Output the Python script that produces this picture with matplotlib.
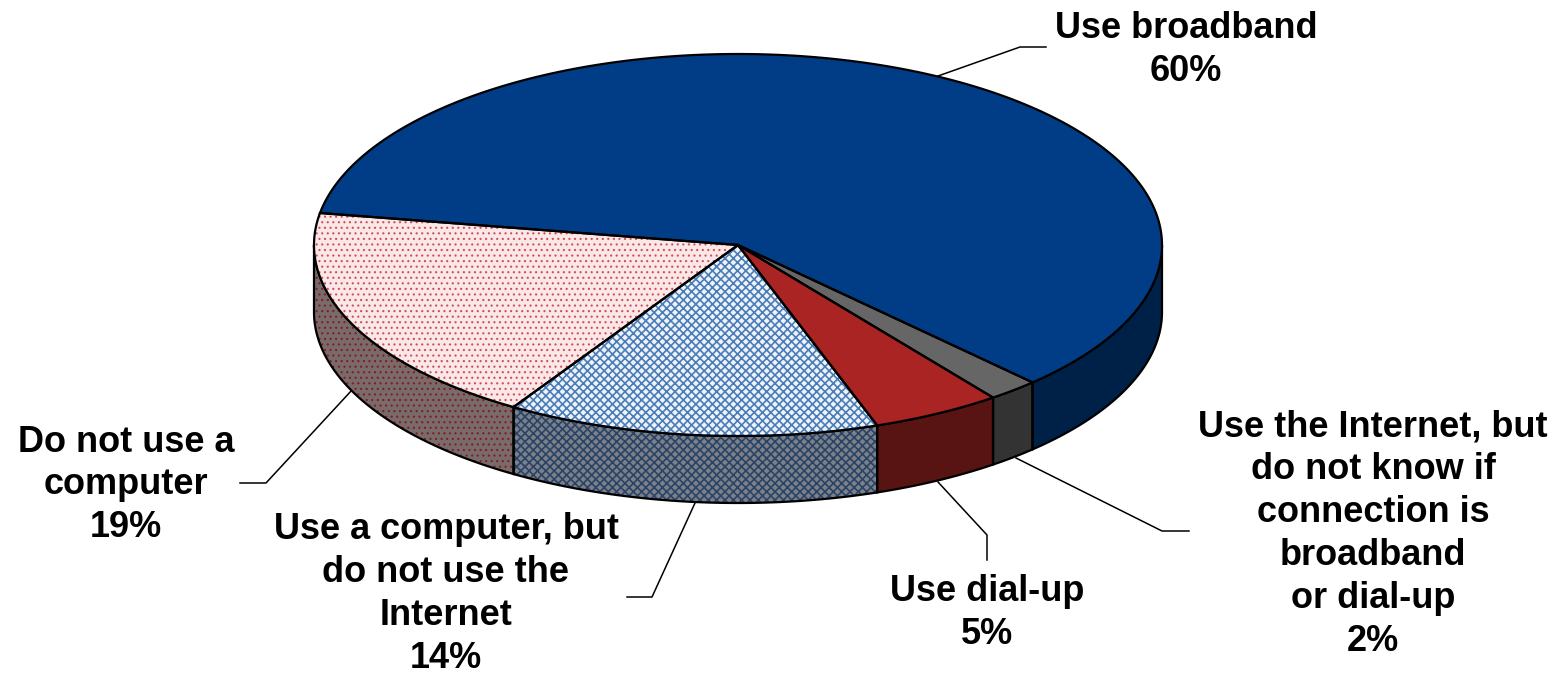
import numpy as np
import matplotlib
matplotlib.use("Agg")
import matplotlib.pyplot as plt

plt.rcParams["font.family"] = ["Liberation Sans", "DejaVu Sans"]

# counter clockwise, starting at the blue slice
labels = ["Use broadband\n60%",
          "Do not use a\ncomputer\n19%",
          "Use a computer, but\ndo not use the\nInternet\n14%",
          "Use dial-up\n5%",
          "Use the Internet, but\ndo not know if\nconnection is\nbroadband\nor dial-up\n2%"]
# slice sizes, the labels show them rounded
values = [60.1, 18.8, 14.2, 4.95, 1.95]
top_colors = ["#003d86", "#fae8e8", "#eef3fa", "#aa2424", "#666666"]
side_colors = ["#002147", "#7a6a6a", "#7c8088", "#581412", "#333333"]
hatches = [None, "...", "xxxx", None, None]
hatch_widths = [0, 0.8, 1.2, 0, 0]
hatch_colors = [None, "#d0505a", "#4a7cb8", None, None]
side_hatch_colors = [None, "#7a2026", "#2a4468", None, None]

# where the labels and their leader lines sit, in pixels
label_xy = [(1186, 50), (126, 485), (446, 594), (987, 613), (1373, 534)]
leaders = [[(938, 76), (1020, 47), (1046, 47)],
           [(352, 390), (266, 483), (240, 483)],
           [(695, 503), (652, 597), (627, 597)],
           [(938, 482), (987, 535), (987, 560)],
           [(1016, 458), (1162, 531), (1189, 531)]]

cx, cy = 738, 245
rx, ry = 424, 191
depth = 67
start = -46


def rim(a0, a1, drop=0):
    t = np.radians(np.linspace(a0, a1, 200))
    return cx + rx * np.cos(t), cy - ry * np.sin(t) + drop


fig = plt.figure(figsize=(15.64, 6.73), dpi=100)
ax = fig.add_axes([0, 0, 1, 1])
ax.set_xlim(0, 1564)
ax.set_ylim(673, 0)
ax.axis("off")

edges = start + np.concatenate([[0], np.cumsum(values)]) * 360 / sum(values)

# side walls first, only the front half of the rim shows
for i in range(len(values)):
    plt.rcParams["hatch.linewidth"] = hatch_widths[i]
    a0, a1 = edges[i], edges[i + 1]
    parts = [(a0, min(a1, 0)), (max(a0, 180), a1)]
    for lo, hi in parts:
        if hi <= lo:
            continue
        x, y = rim(lo, hi)
        xb, yb = rim(lo, hi, depth)
        px = np.concatenate([x, xb[::-1]])
        py = np.concatenate([y, yb[::-1]])
        ax.fill(px, py, facecolor=side_colors[i], edgecolor="none", zorder=2)
        if hatches[i]:
            ax.fill(px, py, facecolor="none", edgecolor=side_hatch_colors[i],
                    hatch=hatches[i], linewidth=0, zorder=2)
        ax.fill(px, py, facecolor="none", edgecolor="black", linewidth=1.6, zorder=3)

# top of the pie
for i in range(len(values)):
    plt.rcParams["hatch.linewidth"] = hatch_widths[i]
    x, y = rim(edges[i], edges[i + 1])
    px = np.concatenate([[cx], x])
    py = np.concatenate([[cy], y])
    ax.fill(px, py, facecolor=top_colors[i], edgecolor="none", zorder=4)
    if hatches[i]:
        ax.fill(px, py, facecolor="none", edgecolor=hatch_colors[i],
                hatch=hatches[i], linewidth=0, zorder=4)
    ax.fill(px, py, facecolor="none", edgecolor="black", linewidth=1.6, zorder=5)

for line in leaders:
    ax.plot([p[0] for p in line], [p[1] for p in line], color="black", lw=1.1, zorder=1)

for text, (tx, ty) in zip(labels, label_xy):
    ax.text(tx, ty, text, ha="center", va="center", fontsize=26, fontweight="bold",
            linespacing=1.29, color="black", zorder=6)

fig.savefig("out.png", dpi=100)
